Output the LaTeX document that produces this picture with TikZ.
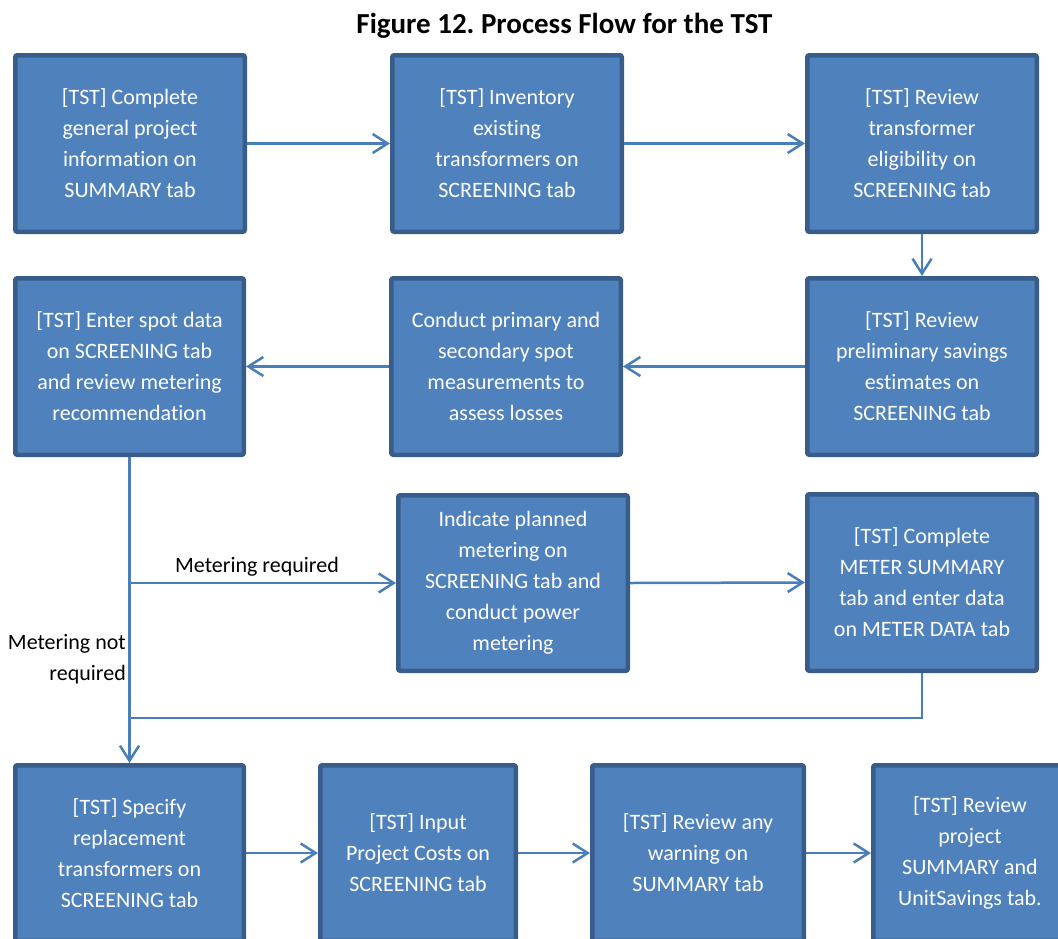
\documentclass[tikz,border=0pt]{standalone}
\usepackage{fontspec}
\setmainfont{Carlito}[Ligatures=NoCommon]
\frenchspacing
\usetikzlibrary{arrows.meta}
\definecolor{boxfill}{HTML}{4F81BD}
\definecolor{boxline}{HTML}{385D8A}
\definecolor{connline}{HTML}{4A7EBB}
\tikzset{
  procbox/.style={draw=boxline, line width=4.5pt, fill=boxfill, rounded corners=2pt,
    inner sep=0pt, text=white, align=center, font=\fontsize{22}{31}\selectfont},
  conn/.style={draw=connline, line width=2.5pt},
  arr/.style={conn, -{Straight Barb[length=15pt,width=19pt]}},
  lbl/.style={inner sep=0pt, font=\fontsize{22}{31}\selectfont, text=black}
}
\begin{document}
\begin{tikzpicture}[x=1pt,y=-1pt]
\useasboundingbox (0,0) rectangle (1058,938);
\clip (0,0) rectangle (1058,938);
\node[inner sep=0pt, anchor=base, font=\fontsize{29}{34}\selectfont\bfseries] (title) at (564.5,33) {Figure 12. Process Flow for the TST};
% row 1
\node[procbox, minimum width=229.5pt, minimum height=176.5pt] (A) at (130,143.5) {[TST] Complete\\general project\\information on\\SUMMARY tab};
\node[procbox, minimum width=229.5pt, minimum height=176.5pt] (B) at (507,143.5) {[TST] Inventory\\existing\\transformers on\\SCREENING tab};
\node[procbox, minimum width=229.5pt, minimum height=176.5pt] (C) at (922,143.5) {[TST] Review\\transformer\\eligibility on\\SCREENING tab};
% row 2
\node[procbox, minimum width=228.5pt, minimum height=176.5pt] (D) at (129.5,366.5) {[TST] Enter spot data\\on SCREENING tab\\and review metering\\recommendation};
\node[procbox, minimum width=229.5pt, minimum height=176.5pt] (E) at (506,366.5) {Conduct primary and\\secondary spot\\measurements to\\assess losses};
\node[procbox, minimum width=229.5pt, minimum height=176.5pt] (F) at (922,366.5) {[TST] Review\\preliminary savings\\estimates on\\SCREENING tab};
% row 3
\node[procbox, minimum width=229.5pt, minimum height=175.5pt] (G) at (513,583) {Indicate planned\\metering on\\SCREENING tab and\\conduct power\\metering};
\node[procbox, minimum width=229.5pt, minimum height=176.5pt] (H) at (922,582.5) {[TST] Complete\\METER SUMMARY\\tab and enter data\\on METER DATA tab};
% row 4
\node[procbox, minimum width=228.5pt, minimum height=175.5pt] (I) at (129.5,853) {[TST] Specify\\replacement\\transformers on\\SCREENING tab};
\node[procbox, minimum width=195.5pt, minimum height=175.5pt] (J) at (418,853) {[TST] Input\\Project Costs on\\SCREENING tab};
\node[procbox, minimum width=211.5pt, minimum height=175.5pt] (K) at (698,853) {[TST] Review any\\warning on\\SUMMARY tab};
\node[procbox, minimum width=193.5pt, minimum height=175.5pt] (L) at (970,853) {[TST] Review\\project\\SUMMARY and\\UnitSavings tab.};
% connectors
\draw[arr] (A.east) -- (B.west);
\draw[arr] (B.east) -- (C.west);
\draw[arr] (C.south) -- (F.north);
\draw[arr] (F.west) -- (E.east);
\draw[arr] (E.west) -- (D.east);
\coordinate (br) at (D.south |- G.west);
\coordinate (jn) at (130,718);
\draw[arr] (D.south) -- (I.north);
\draw[arr] (br) -- (G.west);
\draw[arr] (G.east) -- (H.west);
\draw[conn] (H.south) |- (jn);
\draw[arr] (I.east) -- (J.west);
\draw[arr] (J.east) -- (K.west);
\draw[arr] (K.east) -- (L.west);
% labels
\node[lbl, anchor=base] (req) at (257,572) {Metering required};
\node[lbl, anchor=east, align=right] (notreq) at (126,659) {Metering not\\required};
\end{tikzpicture}
\end{document}
